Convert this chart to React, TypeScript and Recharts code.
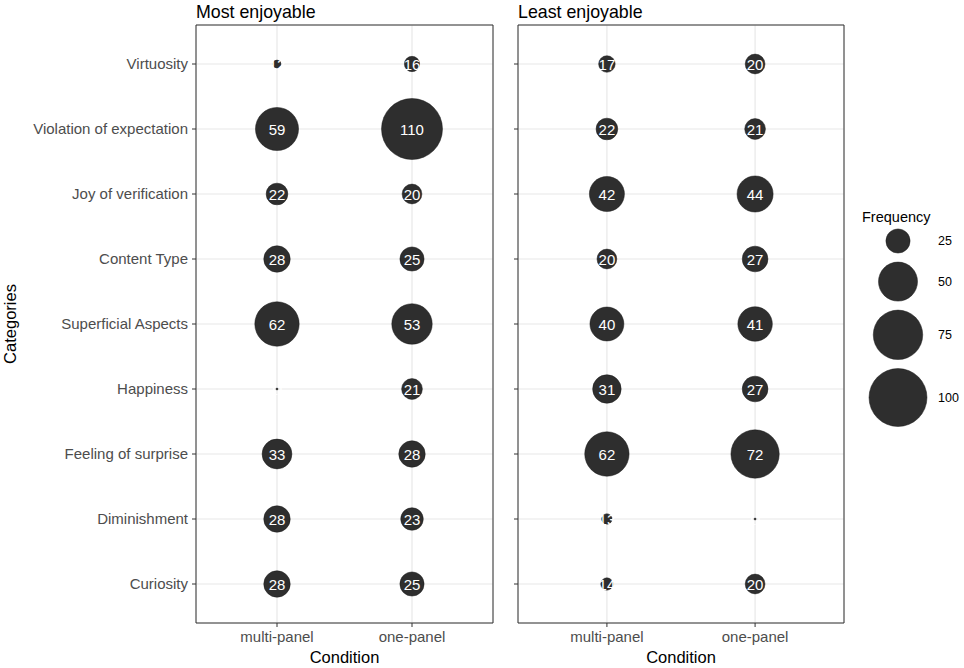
import { ScatterChart, Scatter, XAxis, YAxis, CartesianGrid, ReferenceArea } from 'recharts';

const categories = [
  'Virtuosity',
  'Violation of expectation',
  'Joy of verification',
  'Content Type',
  'Superficial Aspects',
  'Happiness',
  'Feeling of surprise',
  'Diminishment',
  'Curiosity',
];
const conditions = ['multi-panel', 'one-panel'];

// frequencies, same order as categories
const mostMulti = [12, 59, 22, 28, 62, 11, 33, 28, 28];
const mostOne = [16, 110, 20, 25, 53, 21, 28, 23, 25];
const leastMulti = [17, 22, 42, 20, 40, 31, 62, 13, 14];
const leastOne = [20, 21, 44, 27, 41, 27, 72, 11, 20];

const legendValues = [25, 50, 75, 100];

const SIZE_MIN = 11;
const SIZE_MAX = 110;
const FONT = '"Liberation Sans", Arial, Helvetica, sans-serif';
const BUBBLE = '#2e2e2e';

// ggplot-like area scale: radius grows with sqrt of rescaled value
const radius = (v: number) =>
  v <= SIZE_MIN ? 1 : 1 + 29.5 * Math.sqrt((v - SIZE_MIN) / (SIZE_MAX - SIZE_MIN));

const toPoints = (values: number[], cond: number) =>
  values.map((v, i) => ({ x: cond, y: categories.length - i, v }));

const Bubble = (props: any) => {
  const { cx, cy, payload } = props;
  if (cx == null || cy == null) return null;
  return (
    <g>
      <circle cx={cx} cy={cy} r={radius(payload.v)} fill={BUBBLE} stroke="#1a1a1a" strokeWidth={0.5} />
      <text
        x={cx}
        y={cy}
        textAnchor="middle"
        dominantBaseline="central"
        fill="#ffffff"
        fontSize={15}
        fontFamily={FONT}
      >
        {payload.v}
      </text>
    </g>
  );
};

type PanelProps = {
  multi: number[];
  one: number[];
  width: number;
  yWidth: number;
  right: number;
  showLabels: boolean;
};

function Panel({ multi, one, width, yWidth, right, showLabels }: PanelProps) {
  const n = categories.length;
  return (
    <ScatterChart width={width} height={668} margin={{ top: 25, right, bottom: 0, left: 0 }}>
      <CartesianGrid stroke="#e8e8e8" strokeWidth={1.2} />
      <XAxis
        type="number"
        dataKey="x"
        domain={[0.4, 2.6]}
        ticks={[1, 2]}
        allowDataOverflow
        tickFormatter={(c: number) => conditions[c - 1]}
        axisLine={false}
        tickLine={{ stroke: '#333333' }}
        tickSize={4}
        tickMargin={4}
        height={45}
        tick={{ fill: '#4d4d4d', fontSize: 15, fontFamily: FONT }}
        label={{
          value: 'Condition',
          position: 'insideBottom',
          offset: 5,
          fill: '#000000',
          fontSize: 16.5,
          fontFamily: FONT,
        }}
      />
      <YAxis
        type="number"
        dataKey="y"
        domain={[0.4, n + 0.6]}
        ticks={categories.map((_c, i) => i + 1)}
        allowDataOverflow
        tickFormatter={(v: number) => (showLabels ? categories[n - v] : '')}
        axisLine={false}
        tickLine={{ stroke: '#333333' }}
        tickSize={4}
        tickMargin={4}
        width={yWidth}
        tick={{ fill: '#4d4d4d', fontSize: 15, fontFamily: FONT }}
      />
      <ReferenceArea
        x1={0.4}
        x2={2.6}
        y1={0.4}
        y2={n + 0.6}
        fill="none"
        fillOpacity={0}
        stroke="#333333"
        strokeWidth={1}
        ifOverflow="visible"
      />
      <Scatter data={toPoints(multi, 1)} shape={Bubble} isAnimationActive={false} />
      <Scatter data={toPoints(one, 2)} shape={Bubble} isAnimationActive={false} />
    </ScatterChart>
  );
}

function SizeLegend() {
  let y = 241;
  const items = legendValues.map((v, i) => {
    if (i > 0) y += radius(legendValues[i - 1]) + radius(v) + 9;
    return { v, y };
  });
  return (
    <svg width={110} height={460} style={{ position: 'absolute', left: 854, top: 0 }}>
      <text x={8} y={222} fontSize={14.5} fontFamily={FONT} fill="#000000">
        Frequency
      </text>
      {items.map((it) => (
        <g key={it.v}>
          <circle cx={44} cy={it.y} r={radius(it.v)} fill={BUBBLE} stroke="#1a1a1a" strokeWidth={0.5} />
          <text x={84} y={it.y} dominantBaseline="central" fontSize={12.5} fontFamily={FONT} fill="#000000">
            {it.v}
          </text>
        </g>
      ))}
    </svg>
  );
}

export default function App() {
  return (
    <div
      style={{
        position: 'fixed',
        left: 0,
        top: 0,
        width: 964,
        height: 668,
        background: '#ffffff',
        fontFamily: FONT,
      }}
    >
      <div style={{ position: 'absolute', left: 0, top: 0 }}>
        <Panel multi={mostMulti} one={mostOne} width={500} yWidth={196} right={7} showLabels />
      </div>
      <div style={{ position: 'absolute', left: 500, top: 0 }}>
        <Panel multi={leastMulti} one={leastOne} width={464} yWidth={18} right={120} showLabels={false} />
      </div>
      <div style={{ position: 'absolute', left: 196, top: 4, fontSize: 17.8, lineHeight: 1 }}>
        Most enjoyable
      </div>
      <div style={{ position: 'absolute', left: 518, top: 4, fontSize: 17.8, lineHeight: 1 }}>
        Least enjoyable
      </div>
      <div
        style={{
          position: 'absolute',
          left: 10,
          top: 324,
          fontSize: 16.5,
          lineHeight: 1,
          whiteSpace: 'nowrap',
          transform: 'translate(-50%, -50%) rotate(-90deg)',
        }}
      >
        Categories
      </div>
      <SizeLegend />
    </div>
  );
}
